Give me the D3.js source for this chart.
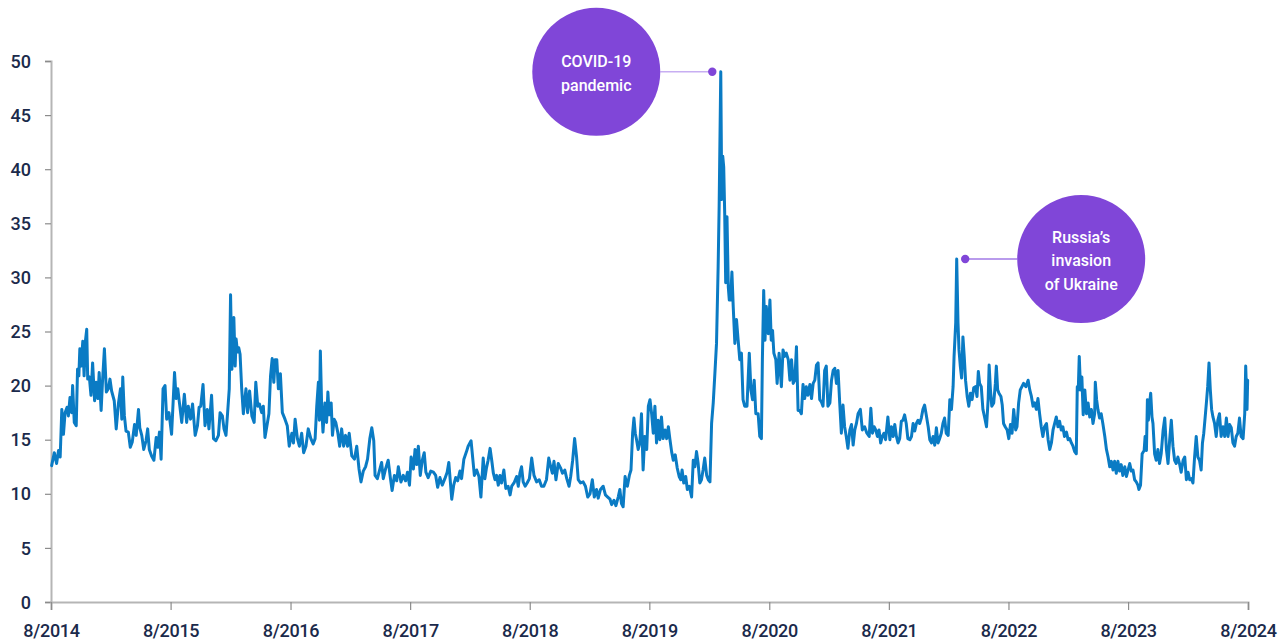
<!DOCTYPE html>
<html><head><meta charset="utf-8">
<script src="https://cdn.jsdelivr.net/npm/d3@7"></script>
<style>html,body{margin:0;padding:0;background:#fff;} svg{display:block;}</style>
</head><body>
<svg id="chart" width="1288" height="643"></svg>
<script>
// ---- data ----
const startDate = "2014-08-01";           // day offsets below count from this date
const xTickLabels = ["8/2014","8/2015","8/2016","8/2017","8/2018","8/2019","8/2020","8/2021","8/2022","8/2023","8/2024"];
const yTickValues = [0,5,10,15,20,25,30,35,40,45,50];

// 8/2014 – 1/2018
const daysA = [2,10,17,23,28,33,38,43,49,53,58,63,66,71,77,81,85,88,92,97,101,105,109,112,117,122,127,133,138,143,147,153,157,163,169,175,180,185,193,199,206,212,216,219,224,229,236,242,248,255,260,267,271,277,283,290,295,300,307,314,321,326,331,336,342,348,353,360,368,377,382,387,392,399,407,414,419,426,432,440,447,452,457,464,470,477,482,490,496,503,511,516,523,528,534,539,544,548,552,558,562,565,569,573,577,582,587,595,600,606,613,620,625,631,636,643,648,653,659,665,670,675,680,684,689,694,700,706,714,721,727,735,740,745,752,758,765,771,778,785,793,800,806,811,816,819,822,826,830,836,841,845,849,855,859,864,869,875,881,887,893,899,905,910,918,926,933,940,946,953,960,966,973,979,985,989,996,1002,1009,1014,1021,1029,1036,1041,1048,1055,1060,1068,1075,1082,1088,1094,1099,1106,1111,1116,1121,1127,1133,1139,1144,1151,1159,1167,1174,1180,1187,1194,1202,1209,1214,1223,1229,1235,1241,1248,1253,1260];
const valsA = [12.6,13.8,12.8,14.0,13.4,17.8,15.5,17.5,18.0,17.2,18.9,17.5,20.0,16.6,16.3,21.5,20.9,23.4,21.8,24.1,20.9,24.1,25.2,20.6,20.8,19.1,22.1,18.6,20.3,18.8,21.2,17.7,20.3,23.4,19.4,19.7,20.6,19.5,18.6,16.0,18.4,19.7,16.9,20.8,17.2,15.8,15.7,14.3,14.8,16.4,15.4,17.8,16.1,15.4,14.1,14.9,16.0,14.1,13.5,13.1,15.2,14.3,15.7,13.2,19.7,20.0,16.9,17.5,15.5,21.2,18.8,19.7,18.4,16.6,19.2,16.6,18.1,16.9,18.3,15.4,16.3,18.0,18.1,20.1,16.3,17.8,16.0,19.1,15.1,14.9,15.4,17.5,17.2,16.0,15.4,17.5,19.7,28.4,21.5,26.3,21.8,24.3,23.1,23.5,22.9,19.7,17.4,19.7,17.5,19.5,17.2,16.6,20.3,18.1,18.3,17.5,18.1,15.2,16.3,17.4,20.9,22.5,20.3,22.4,22.4,19.7,21.1,17.5,16.9,16.3,14.4,15.6,14.7,16.9,15.1,14.4,15.6,13.8,14.4,16.0,15.1,14.6,15.1,18.1,20.3,16.8,23.2,18.1,15.7,18.4,16.6,19.4,17.3,18.4,15.4,16.9,16.6,15.7,14.4,16.0,14.4,15.4,14.4,15.6,13.5,13.2,14.4,12.3,11.1,12.1,12.5,13.2,15.1,16.1,14.9,11.7,11.4,12.1,12.9,11.4,12.3,13.1,11.4,10.3,11.7,11.2,12.5,11.1,11.7,11.2,12.0,10.8,13.4,12.3,14.1,12.7,14.4,11.7,13.1,13.8,12.0,11.5,12.1,12.0,11.7,10.6,11.5,10.8,11.4,12.0,12.9,9.5,10.8,11.5,11.2,12.1,11.4,13.2];

// 1/2018 – 2/2020
const daysB = [1268,1273,1282,1287,1292,1299,1306,1312,1319,1324,1329,1334,1340,1345,1350,1355,1360,1365,1370,1375,1382,1388,1395,1401,1406,1413,1421,1426,1431,1436,1441,1447,1453,1460,1467,1474,1482,1490,1497,1504,1512,1519,1525,1530,1535,1541,1548,1555,1561,1568,1574,1581,1586,1592,1598,1604,1609,1616,1624,1631,1638,1645,1652,1658,1665,1670,1677,1685,1692,1699,1706,1711,1718,1724,1731,1736,1741,1746,1752,1759,1765,1770,1775,1779,1783,1787,1792,1797,1802,1807,1812,1818,1823,1828,1833,1838,1843,1848,1853,1858,1863,1868,1874,1879,1884,1889,1894,1899,1905,1911,1917,1922,1926,1931,1937,1942,1948,1955,1960,1965,1970,1975,1980,1985,1990,1995,2001,2006,2011];
const valsB = [13.9,14.4,14.9,13.3,11.7,12.2,11.6,9.7,13.3,11.4,12.4,13.1,14.2,13.1,11.9,11.3,11.7,10.8,11.7,11.0,12.2,10.5,10.7,9.9,10.7,11.0,11.6,10.7,11.9,12.5,11.1,10.7,11.0,11.4,13.3,11.7,11.1,11.3,10.7,10.7,11.3,13.3,12.5,11.9,13.0,11.3,12.8,12.4,11.9,12.2,11.4,10.7,11.6,13.1,15.1,13.4,11.3,11.0,11.1,10.7,9.7,10.0,11.3,9.7,10.4,9.6,10.4,10.7,9.9,9.7,9.5,9.0,9.4,8.9,9.7,10.4,9.1,8.8,11.6,10.7,11.7,12.2,15.6,17.0,15.6,15.0,14.1,14.7,17.4,12.2,15.3,14.1,18.1,18.7,17.4,15.6,18.1,14.7,16.8,15.0,17.1,15.1,15.9,15.1,16.2,15.0,13.9,13.1,13.6,12.4,11.6,11.3,12.2,11.0,11.6,10.4,10.7,9.7,13.1,12.5,13.9,12.8,11.0,11.3,12.2,13.3,11.7,11.3,11.1];

// 2/2020 – 10/2020
const daysC = [2016,2021,2026,2031,2036,2039,2044,2047,2050,2053,2056,2059,2063,2067,2070,2074,2078,2082,2087,2092,2097,2102,2107,2112,2117,2124,2131,2136,2141,2146,2151,2158,2163,2168,2171,2175,2179,2183,2189,2194,2198,2202,2206,2212,2216,2222,2229,2234,2239,2244,2250,2255,2260,2265,2270,2275,2280];
const valsC = [16.5,18.4,21.1,23.9,31.0,36.5,49.0,37.2,41.2,40.2,35.9,29.5,35.6,29.1,27.9,27.9,30.5,27.3,23.9,26.1,24.2,22.4,23.0,18.7,18.1,18.1,23.0,19.6,18.7,20.5,17.4,17.4,15.3,15.1,22.4,28.8,24.2,27.3,24.8,27.9,24.2,25.1,23.0,22.4,20.2,23.0,19.9,23.3,22.7,23.0,22.4,20.5,22.4,20.2,20.5,23.6,17.7];

// 10/2020 – 4/2021
const daysD = [2285,2290,2295,2300,2305,2310,2316,2321,2326,2331,2336,2341,2346,2351,2356,2361,2366,2371,2377,2382,2387,2392,2397,2402,2407];
const valsD = [17.7,17.4,20.1,18.8,19.9,19.1,20.1,18.8,20.2,20.5,21.9,22.1,18.7,18.5,18.1,21.4,21.8,18.1,18.4,20.5,21.4,21.6,20.2,21.4,18.4];

// 4/2021 – 8/2024
const daysE = [2412,2417,2422,2427,2432,2438,2443,2448,2453,2458,2463,2470,2476,2483,2490,2497,2502,2507,2512,2517,2522,2527,2532,2537,2542,2547,2554,2560,2565,2570,2575,2580,2585,2590,2595,2600,2605,2610,2615,2621,2626,2631,2636,2641,2646,2651,2656,2661,2666,2671,2677,2682,2687,2692,2697,2702,2707,2712,2717,2722,2727,2732,2738,2743,2748,2753,2756,2761,2764,2768,2771,2775,2779,2783,2787,2791,2796,2801,2806,2811,2816,2821,2826,2830,2834,2839,2844,2849,2855,2860,2863,2867,2871,2877,2882,2885,2889,2893,2899,2903,2907,2912,2918,2923,2928,2933,2938,2944,2948,2953,2958,2963,2968,2975,2982,2987,2992,2997,3002,3007,3012,3017,3022,3027,3032,3038,3043,3048,3053,3058,3063,3068,3073,3078,3083,3088,3093,3099,3104,3109,3114,3119,3124,3129,3132,3135,3138,3142,3146,3150,3155,3160,3165,3170,3175,3180,3185,3187,3191,3195,3200,3205,3210,3216,3221,3226,3231,3236,3241,3246,3251,3256,3261,3266,3271,3277,3282,3287,3292,3297,3302,3307,3312,3317,3320,3325,3330,3336,3339,3343,3346,3349,3352,3356,3360,3363,3368,3373,3378,3383,3388,3394,3399,3404,3409,3414,3419,3424,3429,3434,3439,3444,3449,3455,3460,3465,3470,3475,3480,3485,3490,3495,3500,3505,3510,3514,3518,3522,3526,3530,3534,3538,3542,3546,3551,3556,3561,3566,3571,3577,3582,3587,3592,3597,3602,3607,3612,3617,3622,3627,3632,3638,3643,3646,3650,3652];
const valsE = [15.6,18.2,16.2,15.3,14.2,15.9,16.4,14.5,15.9,16.5,17.4,17.8,15.9,16.2,15.6,15.3,17.9,15.6,16.2,15.9,15.3,15.9,14.7,15.3,15.6,15.0,17.1,15.0,16.2,15.3,16.4,15.3,14.7,15.1,16.7,16.8,17.3,16.5,15.1,15.0,15.3,16.5,15.8,16.5,16.8,16.5,17.0,17.8,18.2,17.3,16.2,15.0,14.7,15.3,14.5,16.1,14.7,15.1,15.6,16.5,17.0,15.6,15.4,18.7,17.8,19.9,22.7,25.8,31.7,25.8,23.3,21.8,20.7,24.5,22.7,20.5,19.0,18.1,19.3,18.7,19.8,19.9,19.0,21.3,20.2,19.9,17.8,17.1,16.2,18.7,21.9,19.6,18.1,18.4,20.2,21.8,19.6,19.3,19.0,18.2,16.5,16.2,15.9,15.1,16.4,15.6,17.8,15.9,16.2,18.4,19.6,19.9,20.2,19.9,20.5,19.6,19.0,18.1,18.4,17.8,18.8,17.4,16.2,15.3,16.2,16.5,15.0,14.1,14.7,15.9,16.5,17.1,16.2,16.7,15.9,16.2,15.3,15.7,15.0,15.1,14.7,14.4,13.9,13.7,19.9,19.6,22.7,19.6,20.8,17.3,19.6,17.4,18.4,17.1,17.8,16.5,17.4,20.3,18.7,17.8,17.0,17.4,16.5,15.3,14.1,13.4,12.5,13.0,12.2,13.0,11.9,13.0,12.1,12.7,11.7,12.5,11.6,12.2,12.8,12.1,12.2,11.3,11.1,10.8,10.4,10.8,13.7,14.0,15.3,14.0,18.7,16.8,18.1,19.3,17.1,16.5,13.7,13.1,14.1,12.8,13.7,15.9,17.0,14.1,12.8,15.0,16.8,14.4,13.1,12.8,13.4,12.8,12.0,13.1,13.4,11.3,12.0,11.3,11.4,11.0,13.4,15.3,13.4,13.1,12.2,14.7,15.6,17.0,18.4,19.9,22.1,19.6,17.8,17.1,16.5,15.3,16.8,17.4,15.3,16.2,15.3,17.0,15.3,16.4,16.1,14.7,14.4,15.3,15.6,17.0,15.3,15.1,17.4,21.8,17.8,20.5];

const annotationLabels = [["COVID-19","pandemic"],["Russia’s","invasion","of Ukraine"]];
const annotationDays = [2044, 2764];
const annotationValues = [49.0, 31.7];
const annotationSides = [-1, 1];   // circle left / right of the peak

// ---- chart ----
const svg = d3.select("#chart");
const fontFam = "Roboto, 'Noto Sans', sans-serif";
const textColor = "#1b2a4b";
const axisColor = "#b5b5b5";

const start = d3.timeParse("%Y-%m-%d")(startDate);
const toDate = d => d3.timeDay.offset(start, d);
const x = d3.scaleTime().domain([start, d3.timeYear.offset(start, 10)]).range([51, 1248]);
const y = d3.scaleLinear().domain([0, 50]).range([602, 61]);

const allDays = [].concat(daysA, daysB, daysC, daysD, daysE);
const allVals = [].concat(valsA, valsB, valsC, valsD, valsE);
const series = allDays.map((d, i) => ({date: toDate(d), v: allVals[i]}));

// y axis
const yAxis = svg.append("g").attr("transform", "translate(51,0)")
  .call(d3.axisLeft(y).tickValues(yTickValues).tickSize(6).tickPadding(14).tickFormat(d3.format("d")));
yAxis.select(".domain").attr("stroke", axisColor).attr("stroke-width", 2);
yAxis.selectAll(".tick line").attr("stroke", "#8c8c8c").attr("stroke-width", 1.2);
yAxis.selectAll(".tick text").attr("fill", textColor).attr("font-family", fontFam)
  .attr("font-size", 18).attr("font-weight", 500).attr("dy", "0.34em");

// x axis
const xTickDates = xTickLabels.map((_, i) => d3.timeYear.offset(start, i));
const xAxis = svg.append("g").attr("transform", "translate(0,602)")
  .call(d3.axisBottom(x).tickValues(xTickDates).tickSize(8).tickPadding(14)
    .tickFormat((d, i) => xTickLabels[i]));
xAxis.select(".domain").attr("stroke", axisColor).attr("stroke-width", 2);
xAxis.selectAll(".tick line").attr("stroke", "#8c8c8c").attr("stroke-width", 1.2);
xAxis.selectAll(".tick text").attr("fill", textColor).attr("font-family", fontFam)
  .attr("font-size", 18).attr("font-weight", 500).attr("letter-spacing", "-0.3px");

// line
svg.append("path").datum(series)
  .attr("fill", "none").attr("stroke", "#0a7bc4").attr("stroke-width", 3)
  .attr("stroke-linejoin", "round").attr("stroke-linecap", "round")
  .attr("d", d3.line().x(d => x(d.date)).y(d => y(d.v)));

// annotations
const purple = "#8046d8";
annotationLabels.forEach((lines, i) => {
  const side = annotationSides[i];
  const px = x(toDate(annotationDays[i]));
  const dotX = px + side * 8.5;
  const dotY = y(annotationValues[i]);
  const r = 64;
  const cx = dotX + side * 116;
  const g = svg.append("g");
  g.append("line").attr("x1", dotX).attr("y1", dotY).attr("x2", cx - side * r).attr("y2", dotY)
    .attr("stroke", side < 0 ? "#c7aef2" : "#a27ae6").attr("stroke-width", 1.5);
  g.append("circle").attr("cx", dotX).attr("cy", dotY).attr("r", 4.2).attr("fill", purple);
  g.append("circle").attr("cx", cx).attr("cy", dotY).attr("r", r).attr("fill", purple);
  const n = lines.length;
  g.selectAll("text.lbl").data(lines).join("text").attr("class", "lbl")
    .attr("x", cx).attr("y", (d, k) => dotY + 7 + (k - (n - 1) / 2) * 23.5)
    .attr("text-anchor", "middle").attr("fill", "#fff")
    .attr("font-family", fontFam).attr("font-size", 16).attr("font-weight", 500)
    .text(d => d);
});
</script>
</body></html>
